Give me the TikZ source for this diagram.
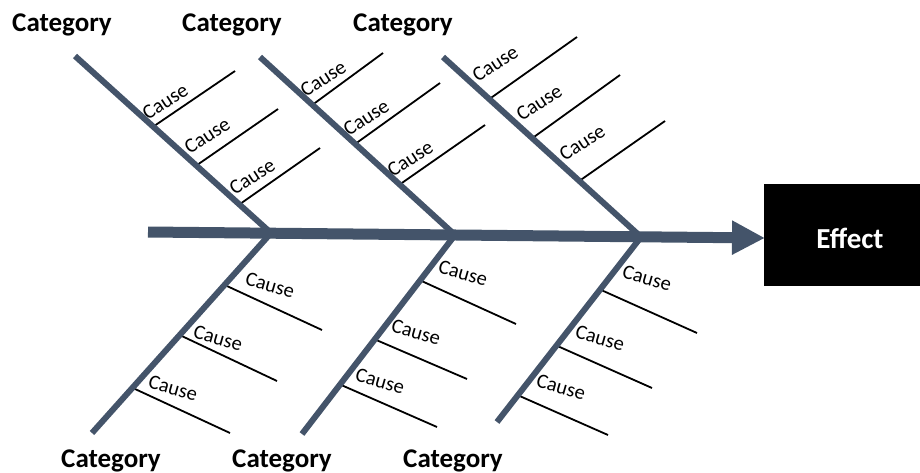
\documentclass[tikz,border=0pt]{standalone}
\usepackage{fontspec}
\setmainfont{Carlito}
\usetikzlibrary{arrows.meta,calc}
\definecolor{bone}{HTML}{44546A}
\begin{document}
\begin{tikzpicture}[x=1pt,y=-1pt,
  spine/.style={draw=bone, line width=11pt, -{Triangle[length=33pt,width=32pt]}},
  bonestroke/.style={draw=bone, line width=6pt},
  causeline/.style={draw=black, line width=1.8pt},
  causeup/.style={anchor=south west, inner sep=0pt, rotate=33, font=\fontsize{20.5}{24}\selectfont},
  causedown/.style={anchor=south west, inner sep=0pt, rotate=-16, font=\fontsize{20.5}{24}\selectfont},
  category/.style={anchor=base, inner sep=0pt, font=\fontsize{27}{31}\selectfont\bfseries},
  effectbox/.style={fill=black, minimum width=156pt, minimum height=102pt, inner sep=0pt},
  effecttext/.style={anchor=base, inner sep=0pt, text=white, font=\fontsize{29}{34}\selectfont\bfseries}]
\useasboundingbox (0,0) rectangle (920,472);

% effect box
\node[effectbox] (effect) at (842,235) {};
\node[effecttext] (effectlabel) at (850,248) {Effect};

% spine
\coordinate (tail) at (148,232);
\coordinate (tip) at (765,238);
\draw[spine] (tail) -- (tip);

% bone ends
\coordinate (t1) at (75,56);   \coordinate (t2) at (260,57);  \coordinate (t3) at (443,57);
\coordinate (j1) at (271,233); \coordinate (j2) at (455,235); \coordinate (j3) at (641,237);
\coordinate (b1) at (92,433);  \coordinate (b2) at (302,434); \coordinate (b3) at (497,422);

% causes on the upper bones
\foreach \i/\from/\to/\sx/\sy/\ex/\ey/\lx/\ly in {
  a1/t1/j1/152/128/235/71/148/121,
  a2/t1/j1/195/167/278/109/190/155,
  a3/t1/j1/238/206/320/148/235/196,
  b1/t2/j2/315/102/383/53/306/98,
  b2/t2/j2/357/142/440/83/349/137,
  b3/t2/j2/402/182/485/125/393/178,
  c1/t3/j3/493/95/577/37/478/83,
  c2/t3/j3/537/133/620/75/522/122,
  c3/t3/j3/582/178/665/121/565/162}
{
  \coordinate (\i-s) at ($(\from)!(\sx,\sy)!(\to)$);
  \coordinate (\i-e) at (\ex,\ey);
  \draw[causeline] (\i-s) -- (\i-e);
  \node[causeup] (\i-l) at (\lx,\ly) {Cause};
}

% causes on the lower bones
\foreach \i/\from/\to/\sx/\sy/\ex/\ey/\lx/\ly in {
  d1/j1/b1/228/288/322/330/244/285,
  d2/j1/b1/183/338/277/381/192/338,
  d3/j1/b1/136/391/230/433/147/388,
  e1/j2/b2/421/281/516/324/437/273,
  e2/j2/b2/373/338/467/379/390/332,
  e3/j2/b2/342/386/437/427/354/381,
  f1/j3/b3/602/291/697/333/621/278,
  f2/j3/b3/557/346/652/388/574/338,
  f3/j3/b3/515/393/608/435/535/387}
{
  \coordinate (\i-s) at ($(\from)!(\sx,\sy)!(\to)$);
  \coordinate (\i-e) at (\ex,\ey);
  \draw[causeline] (\i-s) -- (\i-e);
  \node[causedown] (\i-l) at (\lx,\ly) {Cause};
}

% bones
\draw[bonestroke] (t1) -- (j1);
\draw[bonestroke] (t2) -- (j2);
\draw[bonestroke] (t3) -- (j3);
\draw[bonestroke] (j1) -- (b1);
\draw[bonestroke] (j2) -- (b2);
\draw[bonestroke] (j3) -- (b3);

% category headings
\node[category] (cat1) at (62,31) {Category};
\node[category] (cat2) at (232,31) {Category};
\node[category] (cat3) at (403,31) {Category};
\node[category] (cat4) at (111,467) {Category};
\node[category] (cat5) at (282,467) {Category};
\node[category] (cat6) at (453,467) {Category};
\end{tikzpicture}
\end{document}
